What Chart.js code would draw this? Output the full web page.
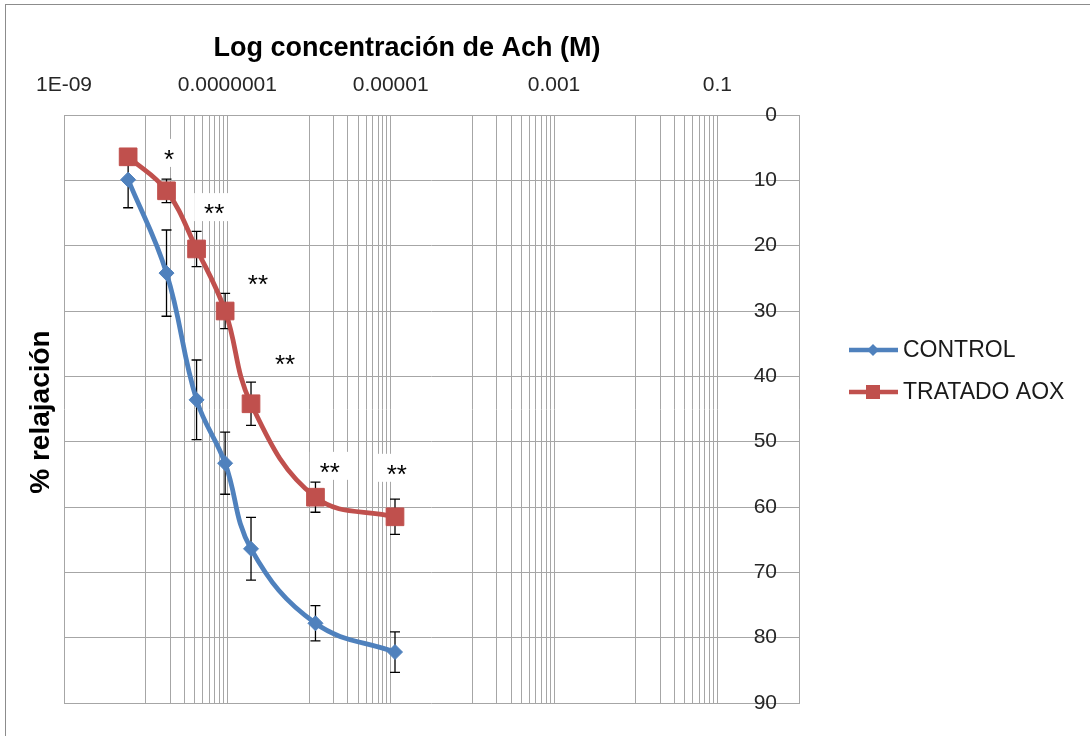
<!DOCTYPE html>
<html><head><meta charset="utf-8">
<script src="https://cdn.jsdelivr.net/npm/chart.js@4"></script>
<style>html,body{margin:0;padding:0;background:#fff}</style>
</head><body>
<canvas id="c" width="1090" height="736" style="width:1090px;height:736px;display:block"></canvas>
<script>
// ---- data ----
const concentrations = [6.1e-9, 1.8e-8, 4.2e-8, 9.4e-8, 1.95e-7, 1.2e-6, 1.13e-5];
const controlValues  = [9.9, 24.2, 43.6, 53.3, 66.4, 77.8, 82.2];
const controlErrors  = [4.3, 6.6, 6.1, 4.75, 4.8, 2.7, 3.1];
const tratadoValues  = [6.4, 11.6, 20.5, 30.0, 44.2, 58.5, 61.5];
const tratadoErrors  = [1.2, 1.8, 2.7, 2.7, 3.3, 2.3, 2.7];
const seriesNames    = ['CONTROL', 'TRATADO AOX'];
const xTickValues    = [1e-9, 1e-7, 1e-5, 1e-3, 1e-1];
const xTickLabels    = ['1E-09', '0.0000001', '0.00001', '0.001', '0.1'];
const signifX        = [1.93e-8, 6.9e-8, 2.37e-7, 5.1e-7, 1.8e-6, 1.19e-5];
const signifY        = [5.8, 14.1, 24.9, 37.2, 53.7, 54.0];
const signifText     = ['*', '**', '**', '**', '**', '**'];
const titleText      = 'Log concentración de Ach (M)';
const yTitleText     = '% relajación';

const FONT = "'Liberation Sans', Arial, sans-serif";
const BLUE = '#4F81BD', RED = '#C0504D', GRID = '#A6A6A6';
const X_MIN = 1e-9, X_MAX = 1;

// gridlines: each labelled major value plus minor lines k*10*major (k=1..9), within the axis range
const gridValues = [];
xTickValues.forEach(v => {
  gridValues.push(v);
  for (let k = 1; k <= 9; k++) {
    const g = +(k * v * 10).toPrecision(6);
    if (g <= X_MAX) gridValues.push(g);
  }
});
if (!gridValues.includes(X_MAX)) gridValues.push(X_MAX);

const toPoints = (vals) => vals.map((v, i) => ({x: concentrations[i], y: v}));

const errorAndBoxPlugin = {
  id: 'errorAndBox',
  beforeDatasetsDraw(chart) {
    const {ctx, scales: {x, y}} = chart;
    ctx.save();
    ctx.fillStyle = '#fff';
    signifX.forEach((sx, i) => {
      const px = x.getPixelForValue(sx), py = y.getPixelForValue(signifY[i]);
      const w = signifText[i].length > 1 ? 40 : 28;
      ctx.fillRect(px - w / 2, py - 14, w, 28);
    });
    ctx.strokeStyle = '#000';
    ctx.lineWidth = 1.3;
    chart.data.datasets.forEach(ds => {
      ds.data.forEach((p, i) => {
        const e = ds.errors[i];
        const px = x.getPixelForValue(p.x);
        const y1 = y.getPixelForValue(p.y - e), y2 = y.getPixelForValue(p.y + e);
        ctx.beginPath();
        ctx.moveTo(px, y1); ctx.lineTo(px, y2);
        ctx.moveTo(px - 5, y1); ctx.lineTo(px + 5, y1);
        ctx.moveTo(px - 5, y2); ctx.lineTo(px + 5, y2);
        ctx.stroke();
      });
    });
    ctx.restore();
  },
  afterDatasetsDraw(chart) {
    const {ctx, scales: {x, y}} = chart;
    ctx.save();
    ctx.fillStyle = '#000';
    ctx.font = '26px ' + FONT;
    ctx.textAlign = 'center';
    ctx.textBaseline = 'alphabetic';
    signifX.forEach((sx, i) => {
      const px = x.getPixelForValue(sx), py = y.getPixelForValue(signifY[i]);
      ctx.fillText(signifText[i], px, py + 15);
    });
    ctx.restore();
  }
};

const decorPlugin = {
  id: 'decor',
  afterDraw(chart) {
    const {ctx} = chart;
    ctx.save();
    ctx.strokeStyle = '#8C8C8C';
    ctx.lineWidth = 1;
    ctx.strokeRect(5.5, 4.5, 1100, 760);
    ctx.fillStyle = '#000';
    ctx.font = 'bold 27px ' + FONT;
    ctx.textAlign = 'center';
    ctx.textBaseline = 'middle';
    ctx.fillText(titleText, 407, 49);
    ctx.save();
    ctx.translate(41, 412);
    ctx.rotate(-Math.PI / 2);
    ctx.font = 'bold 28px ' + FONT;
    ctx.fillText(yTitleText, 0, 0);
    ctx.restore();
    const legendY = [350, 392];
    chart.data.datasets.forEach((ds, i) => {
      const ly = legendY[i];
      ctx.strokeStyle = ds.borderColor;
      ctx.lineWidth = 4.5;
      ctx.beginPath(); ctx.moveTo(849, ly); ctx.lineTo(898, ly); ctx.stroke();
      ctx.fillStyle = ds.backgroundColor;
      if (ds.pointStyle === 'rectRot') {
        ctx.beginPath();
        ctx.moveTo(873, ly - 6); ctx.lineTo(879, ly); ctx.lineTo(873, ly + 6); ctx.lineTo(867, ly);
        ctx.closePath(); ctx.fill();
      } else {
        ctx.fillRect(866, ly - 7, 14, 14);
      }
      ctx.fillStyle = '#1a1a1a';
      ctx.font = '23px ' + FONT;
      ctx.textAlign = 'left';
      ctx.textBaseline = 'middle';
      ctx.fillText(ds.label, 903, ly + 1);
    });
    ctx.restore();
  }
};

new Chart(document.getElementById('c'), {
  type: 'line',
  data: {
    datasets: [
      {
        label: seriesNames[0], data: toPoints(controlValues), errors: controlErrors,
        borderColor: BLUE, backgroundColor: BLUE, borderWidth: 4.8,
        pointStyle: 'rectRot', pointRadius: 7.5, pointBorderWidth: 1,
        tension: 0.4, order: 2
      },
      {
        label: seriesNames[1], data: toPoints(tratadoValues), errors: tratadoErrors,
        borderColor: RED, backgroundColor: RED, borderWidth: 4.8,
        pointStyle: 'rect', pointRadius: 12.5, pointBorderWidth: 1,
        tension: 0.4, order: 1
      }
    ]
  },
  options: {
    responsive: false,
    devicePixelRatio: 1,
    animation: false,
    layout: {padding: {left: 64, right: 291, top: 73, bottom: 33}},
    plugins: {legend: {display: false}, tooltip: {enabled: false}, title: {display: false}},
    scales: {
      x: {
        type: 'logarithmic', position: 'top', min: X_MIN, max: X_MAX,
        afterBuildTicks: (scale) => { scale.ticks = gridValues.map(v => ({value: v})); },
        afterFit: (scale) => { scale.height = 42; },
        grid: {color: GRID, lineWidth: 1, drawTicks: false},
        border: {display: true, color: GRID},
        ticks: {
          autoSkip: false, maxRotation: 0, padding: 17,
          color: '#262626', font: {family: FONT, size: 21},
          callback: (value) => {
            const i = xTickValues.findIndex(t => Math.abs(Math.log10(t) - Math.log10(value)) < 1e-6);
            return i >= 0 ? xTickLabels[i] : '';
          }
        }
      },
      y: {
        type: 'linear', position: 'right', reverse: true, min: 0, max: 90,
        afterFit: (scale) => { scale.width = 0; },
        grid: {color: GRID, lineWidth: 1, drawTicks: false},
        border: {display: true, color: GRID},
        ticks: {
          stepSize: 10, mirror: true, padding: -22,
          color: '#262626', font: {family: FONT, size: 21}
        }
      }
    }
  },
  plugins: [errorAndBoxPlugin, decorPlugin]
});
</script>
</body></html>
